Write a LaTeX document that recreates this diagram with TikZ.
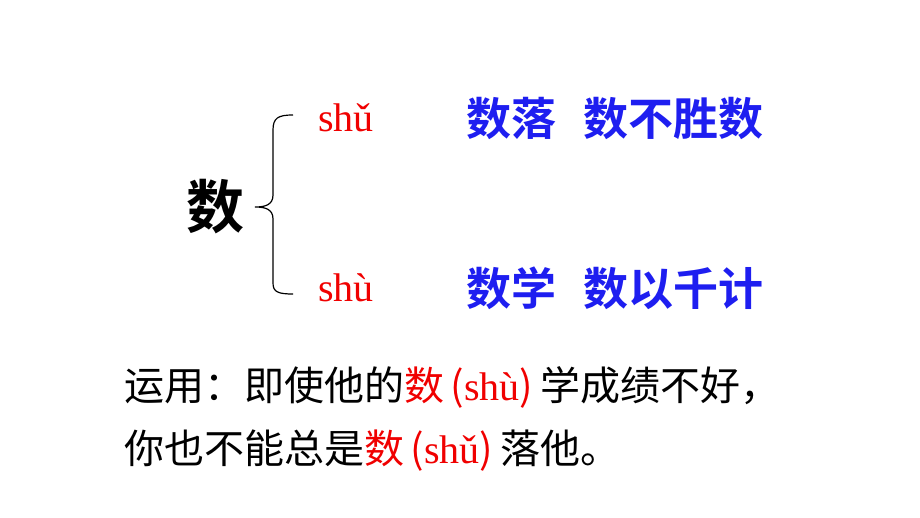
\documentclass[tikz,border=0pt]{standalone}
\usepackage{fontspec}
\newfontfamily\cjk{Noto Sans CJK SC}
\newfontfamily\cjkb{Noto Sans CJK SC Bold}
\setmainfont{Liberation Serif}
\definecolor{myred}{RGB}{240,0,0}
\definecolor{myblue}{RGB}{30,30,240}
\tikzset{py/.style={text=myred,font=\fontsize{40}{46}\selectfont,anchor=west,inner sep=0},
 bl/.style={text=myblue,font=\cjkb\fontsize{45}{50}\selectfont,anchor=west,inner sep=0},
 ln/.style={font=\cjk\fontsize{40}{46}\selectfont,anchor=west,inner sep=0}}
\begin{document}
\begin{tikzpicture}[x=1pt,y=-1pt]
\useasboundingbox (0,0) rectangle (920,518);
\node[font=\cjkb\fontsize{58}{62}\selectfont,inner sep=0] (big) at (215,207) {数};
\draw[line width=1.2pt] (293,115) .. controls (278,115) and (273,118) .. (273,130) -- (273,195) .. controls (273,205) and (265,207) .. (255,207) .. controls (265,207) and (273,209) .. (273,219) -- (273,283) .. controls (273,292) and (278,294) .. (293,294);
\node[py] (p1) at (318,118) {shǔ};
\node[py] (p2) at (318,288) {shù};
\node[bl] (w1) at (466,118) {数落\hspace{0.6em}数不胜数};
\node[bl] (w2) at (466,288) {数学\hspace{0.6em}数以千计};
\node[ln] (l1) at (124,387) {运用：即使他的{\color{myred}数\,(\rmfamily shù\cjk)\,}学成绩不好，};
\node[ln] (l2) at (124,451) {你也不能总是{\color{myred}数\,(\rmfamily shǔ\cjk)\,}落他。};
\end{tikzpicture}
\end{document}
